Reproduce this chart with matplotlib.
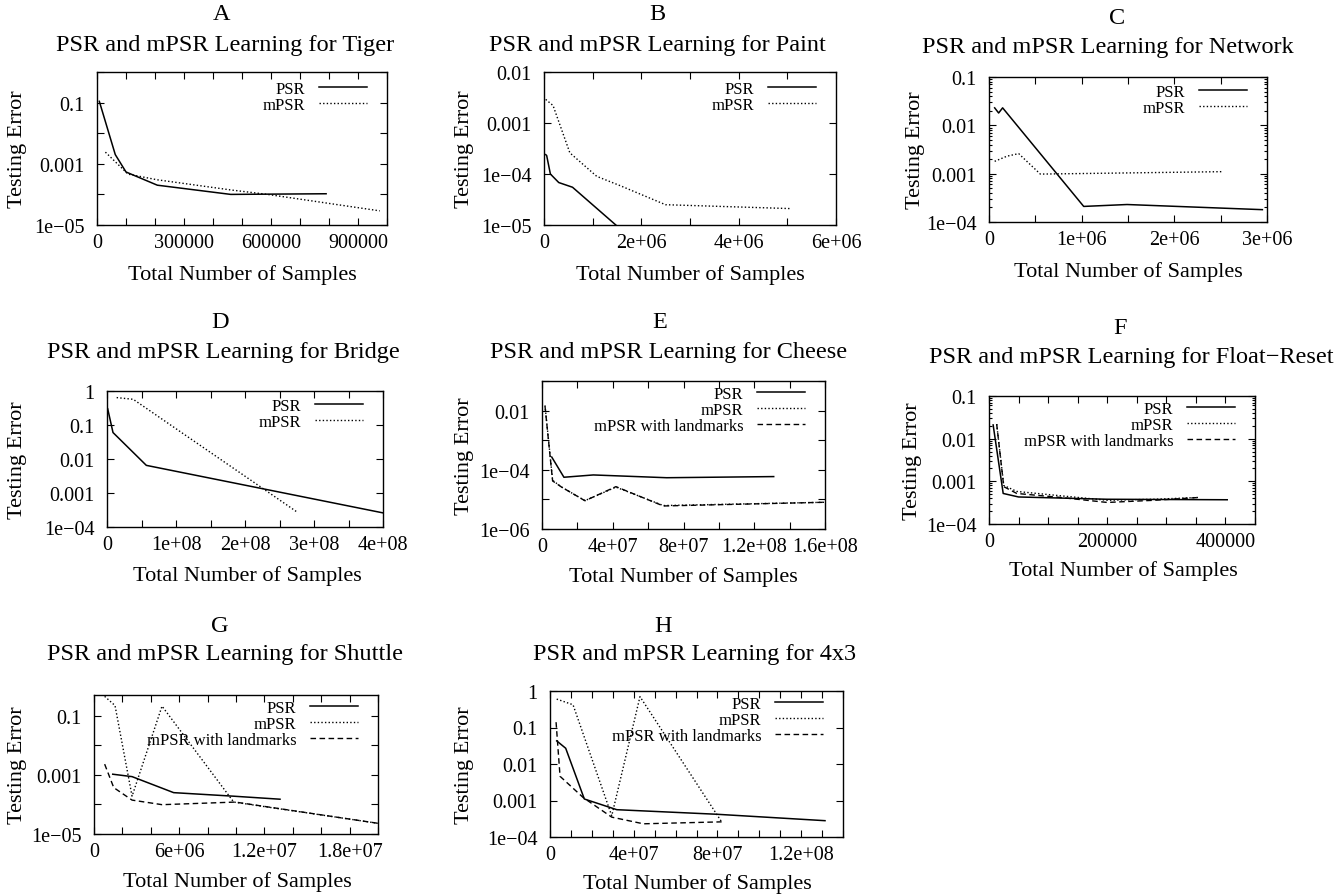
import matplotlib
matplotlib.use('Agg')
import matplotlib.pyplot as plt
from matplotlib.ticker import FixedLocator, FixedFormatter, LogLocator, NullFormatter

plt.rcParams['font.family'] = ['Liberation Serif', 'DejaVu Serif']

# ---- data (x = total samples, y = testing error) ----
tiger_psr_x = [8000, 63000, 100000, 208000, 461000, 790000]
tiger_psr_y = [0.11, 2.0e-3, 5.4e-4, 2.0e-4, 1.0e-4, 1.05e-4]
tiger_mpsr_x = [29000, 107000, 208000, 461000, 588000, 975000]
tiger_mpsr_y = [2.4e-3, 4.6e-4, 3.0e-4, 1.4e-4, 1.0e-4, 2.9e-5]

paint_psr_x = [35000, 55000, 131000, 303000, 586000, 1476000]
paint_psr_y = [2.4e-4, 2.3e-4, 1.0e-4, 6.8e-5, 5.5e-5, 1.0e-5]
paint_mpsr_x = [35000, 186000, 531000, 1083000, 1566000, 2497000, 5048000]
paint_mpsr_y = [2.9e-3, 2.2e-3, 2.6e-4, 9.0e-5, 5.9e-5, 2.5e-5, 2.1e-5]

net_psr_x = [61000, 104000, 147000, 1022000, 1490000, 2950000]
net_psr_y = [0.023, 0.018, 0.023, 2.1e-4, 2.3e-4, 1.8e-4]
net_mpsr_x = [61000, 194000, 320000, 554000, 2514000]
net_mpsr_y = [1.8e-3, 2.3e-3, 2.6e-3, 9.8e-4, 1.1e-3]

bridge_psr_x = [1e6, 8.7e6, 5.7e7, 4.0e8]
bridge_psr_y = [0.3, 0.06, 0.0065, 2.6e-4]
bridge_mpsr_x = [1.4e7, 3.8e7, 2.75e8]
bridge_mpsr_y = [0.64, 0.57, 2.8e-4]

cheese_psr_x = [5.5e6, 1.24e7, 2.9e7, 7.05e7, 1.31e8]
cheese_psr_y = [2.7e-4, 5.6e-5, 6.7e-5, 5.4e-5, 5.9e-5]
cheese_mpsr_x = [1.7e6, 6.0e6, 1.11e7, 2.43e7, 4.18e7, 6.86e7, 1.6e8]
cheese_mpsr_y = [0.015, 4.4e-5, 2.6e-5, 9.1e-6, 2.6e-5, 6.2e-6, 8e-6]
cheese_lm_x = [1.7e6, 6.0e6, 1.11e7, 2.43e7, 4.18e7, 6.86e7, 1.6e8]
cheese_lm_y = [0.014, 4.2e-5, 2.6e-5, 9.0e-6, 2.7e-5, 6.0e-6, 8e-6]

float_psr_x = [7000, 24000, 50000, 200000, 403000]
float_psr_y = [0.021, 5.2e-4, 4.3e-4, 3.8e-4, 3.7e-4]
float_mpsr_x = [13000, 25000, 47000, 120000, 200000, 280000, 357000]
float_mpsr_y = [0.022, 8.0e-4, 5.8e-4, 4.6e-4, 3.6e-4, 3.8e-4, 4.2e-4]
float_lm_x = [13000, 25000, 47000, 120000, 200000, 280000, 357000]
float_lm_y = [0.022, 7.5e-4, 5.2e-4, 4.2e-4, 3.2e-4, 3.6e-4, 4.2e-4]

shuttle_psr_x = [1.32e6, 2.68e6, 5.61e6, 9.81e6, 1.31e7]
shuttle_psr_y = [1.05e-3, 8.7e-4, 2.5e-4, 1.9e-4, 1.5e-4]
shuttle_mpsr_x = [7.5e5, 1.48e6, 2.68e6, 4.79e6, 9.84e6, 2.0e7]
shuttle_mpsr_y = [0.45, 0.22, 1.9e-4, 0.21, 1.2e-4, 2.3e-5]
shuttle_lm_x = [7.5e5, 1.39e6, 2.68e6, 4.79e6, 9.95e6, 2.0e7]
shuttle_lm_y = [2.3e-3, 3.7e-4, 1.4e-4, 9.8e-5, 1.2e-4, 2.3e-5]

grid_psr_x = [3.2e6, 7.5e6, 1.64e7, 3.19e7, 7.96e7, 1.314e8]
grid_psr_y = [0.043, 0.027, 1.1e-3, 5.6e-4, 4.2e-4, 2.8e-4]
grid_mpsr_x = [3.2e6, 1.1e7, 2.95e7, 4.3e7, 8.2e7]
grid_mpsr_y = [0.6, 0.42, 3.8e-4, 0.7, 2.6e-4]
grid_lm_x = [2.9e6, 4.8e6, 1.59e7, 2.95e7, 4.46e7, 8.2e7]
grid_lm_y = [0.14, 4.6e-3, 1.2e-3, 3.5e-4, 2.3e-4, 2.6e-4]

# tick positions / labels
tiger_xticks = [i * 100000 for i in range(11)]
tiger_xlabels = ['0', '', '', '300000', '', '', '600000', '', '', '900000', '']
paint_xticks = [i * 1e6 for i in range(7)]
paint_xlabels = ['0', '', '2e+06', '', '4e+06', '', '6e+06']
net_xticks = [i * 5e5 for i in range(7)]
net_xlabels = ['0', '', '1e+06', '', '2e+06', '', '3e+06']
bridge_xticks = [i * 5e7 for i in range(9)]
bridge_xlabels = ['0', '', '1e+08', '', '2e+08', '', '3e+08', '', '4e+08']
cheese_xticks = [i * 2e7 for i in range(9)]
cheese_xlabels = ['0', '', '4e+07', '', '8e+07', '', '1.2e+08', '', '1.6e+08']
float_xticks = [i * 50000 for i in range(10)]
float_xlabels = ['0', '', '', '', '200000', '', '', '', '400000', '']
shuttle_xticks = [i * 2e6 for i in range(11)]
shuttle_xlabels = ['0', '', '', '6e+06', '', '', '1.2e+07', '', '', '1.8e+07', '']
grid_xticks = [i * 1e7 for i in range(15)]
grid_xlabels = ['0', '', '', '', '4e+07', '', '', '', '8e+07', '', '', '', '1.2e+08', '', '']

dec_5_0 = [1e-5, 1e-4, 1e-3, 1e-2, 1e-1, 1]
dec_5_0_labels = ['1e\u221205', '', '0.001', '', '0.1', '']
dec_5_2 = [1e-5, 1e-4, 1e-3, 1e-2]
dec_5_2_labels = ['1e\u221205', '1e\u221204', '0.001', '0.01']
dec_4_1 = [1e-4, 1e-3, 1e-2, 1e-1]
dec_4_1_labels = ['1e\u221204', '0.001', '0.01', '0.1']
dec_4_0 = [1e-4, 1e-3, 1e-2, 1e-1, 1]
dec_4_0_labels = ['1e\u221204', '0.001', '0.01', '0.1', '1']
dec_6_1 = [1e-6, 1e-5, 1e-4, 1e-3, 1e-2, 1e-1]
dec_6_1_labels = ['1e\u221206', '', '1e\u221204', '', '0.01', '']

LEG3 = ['PSR', 'mPSR', 'mPSR with landmarks']
STYLES = [dict(ls='-', lw=1.1), dict(ls=(0, (1, 1.6)), lw=1.0), dict(ls=(0, (4, 2.5)), lw=1.0)]

W, H = 1337, 895
fig = plt.figure(figsize=(W / 100, H / 100), dpi=100)


def draw_panel(box, letter, letter_xy, title, title_xy, series, xlim, xticks, xlabels,
               ylim, yticks, ylabels, ylab_x, xlab_xy, leg_off):
    l, r, t, b = box
    aw, ah = r - l, b - t
    ax = fig.add_axes([l / W, 1 - b / H, aw / W, ah / H])
    handles = []
    for (xs, ys), st, name in zip(series, STYLES, LEG3):
        h, = ax.plot(xs, ys, color='black', label=name, **st)
        handles.append(h)
    ax.set_yscale('log')
    ax.set_xlim(*xlim)
    ax.set_ylim(*ylim)
    ax.xaxis.set_major_locator(FixedLocator(xticks))
    ax.xaxis.set_major_formatter(FixedFormatter(xlabels))
    ax.yaxis.set_major_locator(FixedLocator(yticks))
    ax.yaxis.set_major_formatter(FixedFormatter(ylabels))
    ax.yaxis.set_minor_locator(LogLocator(base=10, subs=range(2, 10)))
    ax.yaxis.set_minor_formatter(NullFormatter())
    ax.tick_params(which='both', direction='in', top=True, right=True, width=0.8)
    ax.tick_params(which='major', length=5, labelsize=14.5)
    ax.tick_params(axis='y', which='major', pad=9)
    ax.tick_params(axis='x', which='major', pad=6)
    ax.tick_params(which='minor', length=2.5)
    for s in ax.spines.values():
        s.set_linewidth(1.0)
    ax.legend(handles=handles, loc='upper right', frameon=False, markerfirst=False,
              fontsize=12, handlelength=2.9, handletextpad=0.8,
              labelspacing=0.0, borderaxespad=0, borderpad=0,
              bbox_to_anchor=(1 - 20 / aw, 1 - leg_off / ah))
    fig.text(letter_xy[0] / W, 1 - letter_xy[1] / H, letter, ha='center', va='center', fontsize=17.5)
    fig.text(title_xy[0] / W, 1 - title_xy[1] / H, title, ha='center', va='center', fontsize=17.5)
    fig.text(ylab_x / W, 1 - ((t + b) / 2) / H, 'Testing Error', rotation=90,
             ha='center', va='center', fontsize=16)
    fig.text(xlab_xy[0] / W, 1 - xlab_xy[1] / H, 'Total Number of Samples',
             ha='center', va='center', fontsize=16)
    return ax


draw_panel((97, 387, 73, 226), 'A', (222, 15), 'PSR and mPSR Learning for Tiger', (225, 45),
           [(tiger_psr_x, tiger_psr_y), (tiger_mpsr_x, tiger_mpsr_y)],
           (0, 1e6), tiger_xticks, tiger_xlabels, (1e-5, 1), dec_5_0, dec_5_0_labels,
           18, (242, 275), 9)
draw_panel((544, 836, 73, 226), 'B', (657, 15), 'PSR and mPSR Learning for Paint', (657, 45),
           [(paint_psr_x, paint_psr_y), (paint_mpsr_x, paint_mpsr_y)],
           (0, 6e6), paint_xticks, paint_xlabels, (1e-5, 1e-2), dec_5_2, dec_5_2_labels,
           465, (690, 275), 9)
draw_panel((989, 1267, 78, 223), 'C', (1117, 18), 'PSR and mPSR Learning for Network', (1108, 47),
           [(net_psr_x, net_psr_y), (net_mpsr_x, net_mpsr_y)],
           (0, 3e6), net_xticks, net_xlabels, (1e-4, 0.1), dec_4_1, dec_4_1_labels,
           915, (1128, 272), 7)
draw_panel((107, 383, 392, 528), 'D', (220, 323), 'PSR and mPSR Learning for Bridge', (223, 353),
           [(bridge_psr_x, bridge_psr_y), (bridge_mpsr_x, bridge_mpsr_y)],
           (0, 4e8), bridge_xticks, bridge_xlabels, (1e-4, 1), dec_4_0, dec_4_0_labels,
           18, (247, 576), 7)
draw_panel((542, 825, 382, 530), 'E', (660, 323), 'PSR and mPSR Learning for Cheese', (669, 353),
           [(cheese_psr_x, cheese_psr_y), (cheese_mpsr_x, cheese_mpsr_y), (cheese_lm_x, cheese_lm_y)],
           (0, 1.6e8), cheese_xticks, cheese_xlabels, (1e-6, 0.1), dec_6_1, dec_6_1_labels,
           465, (683, 577), 5)
draw_panel((989, 1255, 397, 525), 'F', (1120, 328), 'PSR and mPSR Learning for Float\u2212Reset', (1131, 357),
           [(float_psr_x, float_psr_y), (float_mpsr_x, float_mpsr_y), (float_lm_x, float_lm_y)],
           (0, 4.5e5), float_xticks, float_xlabels, (1e-4, 0.1), dec_4_1, dec_4_1_labels,
           913, (1123, 571), 5)
draw_panel((94, 378, 696, 835), 'G', (220, 626), 'PSR and mPSR Learning for Shuttle', (225, 655),
           [(shuttle_psr_x, shuttle_psr_y), (shuttle_mpsr_x, shuttle_mpsr_y), (shuttle_lm_x, shuttle_lm_y)],
           (0, 2e7), shuttle_xticks, shuttle_xlabels, (1e-5, 0.5), dec_5_0[:-1], dec_5_0_labels[:-1],
           18, (237, 882), 5)
draw_panel((550, 843, 692, 838), 'H', (663, 626), 'PSR and mPSR Learning for 4x3', (695, 655),
           [(grid_psr_x, grid_psr_y), (grid_mpsr_x, grid_mpsr_y), (grid_lm_x, grid_lm_y)],
           (0, 1.4e8), grid_xticks, grid_xlabels, (1e-4, 1), dec_4_0, dec_4_0_labels,
           465, (697, 884), 5)

fig.savefig('out.png', dpi=100)
